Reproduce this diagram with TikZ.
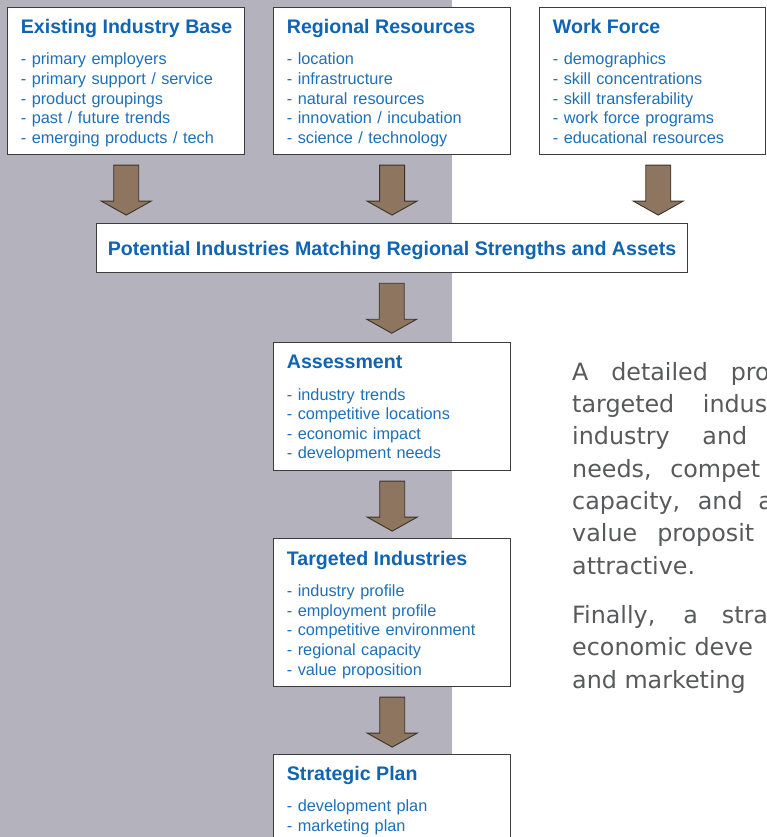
\documentclass[tikz,border=0pt]{standalone}
\usepackage{fontspec}
\setmainfont{Liberation Sans}
\newfontfamily\parafont{DejaVu Sans}
\usepackage{tikz}
\usepackage{xcolor}
\usetikzlibrary{calc}

\definecolor{bggray}{RGB}{180,179,189}
\definecolor{headblue}{RGB}{16,100,176}
\definecolor{itemblue}{RGB}{30,112,185}
\definecolor{arrowfill}{RGB}{141,117,96}
\definecolor{arrowline}{RGB}{59,50,40}
\definecolor{frameline}{RGB}{60,60,60}
\definecolor{paragray}{RGB}{88,89,91}

\newcommand{\boxhead}[1]{{\color{headblue}\bfseries\fontsize{19.6}{19.6}\selectfont #1}}

\begin{document}
\begin{tikzpicture}[x=1pt, y=-1pt,
    frame/.style={draw=frameline, line width=1.1pt, fill=white, anchor=north west, inner sep=0pt},
    boxtext/.style={anchor=base west, inner sep=0pt, text width=215pt, align=left, text=itemblue,
      font=\fontsize{16.3}{19.6}\selectfont},
    blockarrow/.style={draw=arrowline, line width=0.9pt, fill=arrowfill},
    para/.style={anchor=base west, inner sep=0pt, text=paragray, font=\parafont\fontsize{23.8}{32.3}\selectfont}]
        \useasboundingbox (0,0) rectangle (766,837);
        \clip (0,0) rectangle (766,837);
        \fill [bggray] (0,0) rectangle (452,837);

        % top row
        \node [frame, minimum width=236.7pt, minimum height=147.3pt] (exist) at (7.3,6.7) {};
        \node [frame, minimum width=237pt, minimum height=147.3pt] (region) at (273,6.7) {};
        \node [frame, minimum width=226pt, minimum height=147.3pt] (work) at (539,6.7) {};
        \node [boxtext] (exist-txt) at (20.7,33.3) {\boxhead{Existing Industry Base}\\[12.1pt]
            - primary employers\\ - primary support / service\\ - product groupings\\
            - past / future trends\\ - emerging products / tech};
        \node [boxtext] (region-txt) at (286.7,33.3) {\boxhead{Regional Resources}\\[12.1pt]
            - location\\ - infrastructure\\ - natural resources\\
            - innovation / incubation\\ - science / technology};
        \node [boxtext] (work-txt) at (552.7,33.3) {\boxhead{Work Force}\\[12.1pt]
            - demographics\\ - skill concentrations\\ - skill transferability\\
            - work force programs\\ - educational resources};

        \node [frame, anchor=center, minimum width=590.6pt, minimum height=49.4pt, text=headblue,
            font=\bfseries\fontsize{19.6}{19.6}\selectfont, text height=14.3pt, text depth=0pt]
            (match) at (392,248) {Potential Industries Matching Regional Strengths and Assets};

        % column
        \node [frame, minimum width=236.7pt, minimum height=128.3pt] (assess) at (273.3,341.7) {};
        \node [frame, minimum width=236.7pt, minimum height=147.7pt] (target) at (273.3,538.3) {};
        \node [frame, minimum width=236.7pt, minimum height=120pt] (plan) at (273.3,754.3) {};
        \node [boxtext] (assess-txt) at (286.7,368.3) {\boxhead{Assessment}\\[12.1pt]
            - industry trends\\ - competitive locations\\ - economic impact\\ - development needs};
        \node [boxtext] (target-txt) at (286.7,565) {\boxhead{Targeted Industries}\\[12.1pt]
            - industry profile\\ - employment profile\\ - competitive environment\\
            - regional capacity\\ - value proposition};
        \node [boxtext] (plan-txt) at (286.7,780.7) {\boxhead{Strategic Plan}\\[11.4pt]
            - development plan\\ - marketing plan};

        \draw [blockarrow] ($(exist.south)+(-12.5,10)$) -- ++(25,0) -- ++(0,36) -- ++(12.5,0) -- ++(-25,14) -- ++(-25,-14) -- ++(12.5,0) -- cycle;
        \draw [blockarrow] ($(region.south)+(-12.5,10)$) -- ++(25,0) -- ++(0,36) -- ++(12.5,0) -- ++(-25,14) -- ++(-25,-14) -- ++(12.5,0) -- cycle;
        \draw [blockarrow] ($(work.south)+(-6.8,10)$) -- ++(25,0) -- ++(0,36) -- ++(12.5,0) -- ++(-25,14) -- ++(-25,-14) -- ++(12.5,0) -- cycle;
        \draw [blockarrow] ($(match.south)+(-12.8,10)$) -- ++(25,0) -- ++(0,36) -- ++(12.5,0) -- ++(-25,14) -- ++(-25,-14) -- ++(12.5,0) -- cycle;
        \draw [blockarrow] ($(assess.south)+(-12.5,10)$) -- ++(25,0) -- ++(0,36) -- ++(12.5,0) -- ++(-25,14) -- ++(-25,-14) -- ++(12.5,0) -- cycle;
        \draw [blockarrow] ($(target.south)+(-12.5,10)$) -- ++(25,0) -- ++(0,36) -- ++(12.5,0) -- ++(-25,14) -- ++(-25,-14) -- ++(12.5,0) -- cycle;

        % text at the right
        \node [para] (l1) at (572,380) {\makebox[197.5pt][s]{A detailed pro}};
        \node [para] (l2) at (572,412.3) {\makebox[195pt][s]{targeted indus}};
        \node [para] (l3) at (572,444.7) {\makebox[175pt][s]{industry and}};
        \node [para] (l4) at (572,477) {\makebox[188pt][s]{needs, compet}};
        \node [para] (l5) at (572,509.3) {\makebox[200.6pt][s]{capacity, and a}};
        \node [para] (l6) at (572,541.7) {\makebox[182pt][s]{value proposit}};
        \node [para] (l7) at (572,574) {attractive.};
        \node [para] (l8) at (572,623.3) {\makebox[195.8pt][s]{Finally, a stra}};
        \node [para] (l9) at (572,655.7) {economic deve};
        \node [para] (l10) at (572,688) {and marketing};
    \end{tikzpicture}
\end{document}
